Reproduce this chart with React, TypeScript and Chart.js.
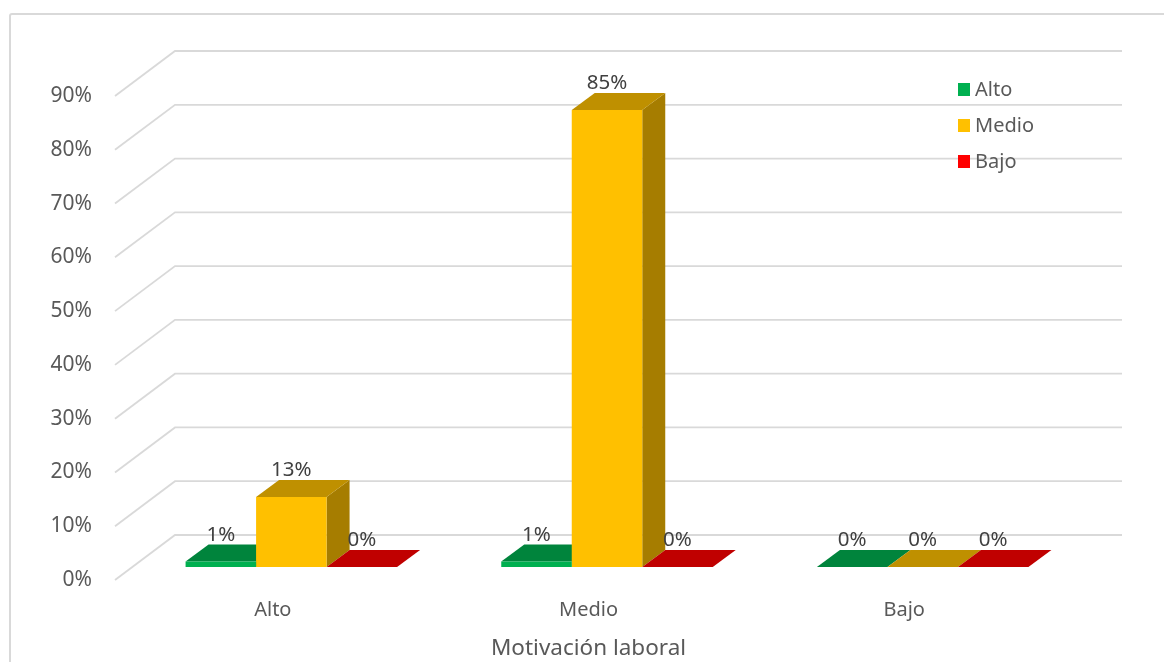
import React, { useEffect, useRef } from "react";
import { Chart, registerables } from "chart.js";

Chart.register(...registerables);

const categories = ["Alto", "Medio", "Bajo"];
const seriesNames = ["Alto", "Medio", "Bajo"];
const altoValues = [1, 1, 0];
const medioValues = [13, 85, 0];
const bajoValues = [0, 0, 0];
const axisTitle = "Motivación laboral";

const frontColors = ["#00B050", "#FFC000", "#FF0000"];
const topColors = ["#00843C", "#BF9000", "#C00000"];
const sideColors = ["#007335", "#A67D00", "#A60000"];

const FONT = '"Noto Sans", sans-serif';
const TEXT = "#595959";
const GRID = "#D9D9D9";

// Oblique projection used for the wall, the floor and the bar faces.
const WALL = { dx: 60, dy: -45 };
const BAR_SHIFT = { dx: 18.5, dy: -13 };
const BAR_DEPTH = { dx: 23, dy: -17 };

function poly(ctx: CanvasRenderingContext2D, pts: number[][], fill: string) {
  ctx.fillStyle = fill;
  ctx.beginPath();
  pts.forEach(([x, y], i) => (i ? ctx.lineTo(x, y) : ctx.moveTo(x, y)));
  ctx.closePath();
  ctx.fill();
}

const cardPlugin = {
  id: "card",
  beforeDraw(chart: any) {
    const { ctx, width, height } = chart;
    ctx.save();
    ctx.fillStyle = "#FFFFFF";
    ctx.fillRect(0, 0, width, height);
    ctx.strokeStyle = GRID;
    ctx.lineWidth = 2;
    ctx.beginPath();
    ctx.moveTo(10, height);
    ctx.lineTo(10, 16);
    ctx.quadraticCurveTo(10, 14, 12, 14);
    ctx.lineTo(width, 14);
    ctx.stroke();
    ctx.restore();
  },
};

const wallPlugin = {
  id: "wall",
  beforeDatasetsDraw(chart: any) {
    const { ctx, scales } = chart;
    const { x: xs, y: ys } = scales;
    ctx.save();
    ctx.strokeStyle = GRID;
    ctx.lineWidth = 1.8;
    ys.ticks.forEach((t: any) => {
      const py = ys.getPixelForValue(t.value);
      ctx.beginPath();
      ctx.moveTo(xs.left, py);
      ctx.lineTo(xs.left + WALL.dx, py + WALL.dy);
      ctx.lineTo(xs.right + WALL.dx, py + WALL.dy);
      ctx.stroke();
    });
    ctx.restore();
  },
};

const barsPlugin = {
  id: "bars3d",
  beforeDatasetsDraw(chart: any) {
    const { ctx } = chart;
    ctx.save();
    ctx.translate(BAR_SHIFT.dx, BAR_SHIFT.dy);
    chart.data.datasets.forEach((_: any, di: number) => {
      chart.getDatasetMeta(di).data.forEach((el: any) => {
        const l = el.x - el.width / 2;
        const r = el.x + el.width / 2;
        const t = el.y;
        const b = el.base;
        const { dx, dy } = BAR_DEPTH;
        if (b - t > 0.01) {
          poly(ctx, [[r, t], [r + dx, t + dy], [r + dx, b + dy], [r, b]], sideColors[di]);
        }
        poly(ctx, [[l, t], [r, t], [r + dx, t + dy], [l + dx, t + dy]], topColors[di]);
      });
    });
  },
  afterDatasetsDraw(chart: any) {
    const { ctx } = chart;
    ctx.fillStyle = "#404040";
    ctx.font = `20.5px ${FONT}`;
    ctx.textAlign = "center";
    ctx.textBaseline = "middle";
    chart.data.datasets.forEach((ds: any, di: number) => {
      chart.getDatasetMeta(di).data.forEach((el: any, i: number) => {
        ctx.fillText(`${ds.data[i]}%`, el.x, el.y - 26.5);
      });
    });
    ctx.restore();
  },
};

const legendPlugin = {
  id: "cornerLegend",
  afterDraw(chart: any) {
    const { ctx } = chart;
    ctx.save();
    ctx.font = `20px ${FONT}`;
    ctx.textBaseline = "middle";
    chart.data.datasets.forEach((ds: any, i: number) => {
      const y = 89 + i * 36;
      ctx.fillStyle = ds.backgroundColor;
      ctx.fillRect(958, y - 6, 12, 13);
      ctx.fillStyle = TEXT;
      ctx.fillText(ds.label, 975, y + 1);
    });
    ctx.restore();
  },
};

export default function App() {
  const ref = useRef<HTMLCanvasElement>(null);

  useEffect(() => {
    const seriesValues = [altoValues, medioValues, bajoValues];
    const chart = new Chart(ref.current as HTMLCanvasElement, {
      type: "bar",
      data: {
        labels: categories,
        datasets: seriesNames.map((label, i) => ({
          label,
          data: seriesValues[i],
          backgroundColor: frontColors[i],
          borderWidth: 0,
          categoryPercentage: 0.67,
          barPercentage: 1,
        })),
      },
      options: {
        responsive: false,
        animation: false,
        layout: { padding: { left: 0, top: 96, right: 102, bottom: 0 } },
        plugins: {
          legend: { display: false },
          tooltip: { enabled: false },
        },
        scales: {
          x: {
            grid: { display: false },
            border: { display: false },
            ticks: { color: TEXT, font: { family: FONT, size: 20 }, padding: 10, maxRotation: 0 },
            title: {
              display: true,
              text: axisTitle,
              color: TEXT,
              font: { family: FONT, size: 22.5 },
              padding: { top: 0, bottom: 0 },
            },
            afterFit(scale: any) {
              scale.height = 82;
            },
          },
          y: {
            min: 0,
            max: 90,
            grid: { display: false, drawTicks: false },
            border: { display: false },
            ticks: {
              stepSize: 10,
              color: TEXT,
              font: { family: FONT, size: 21 },
              padding: 23,
              callback: (v: any) => `${v}%`,
            },
            afterFit(scale: any) {
              scale.width = 115;
            },
          },
        },
      },
      plugins: [cardPlugin, wallPlugin, barsPlugin, legendPlugin],
    } as any);
    return () => chart.destroy();
  }, []);

  return (
    <canvas
      ref={ref}
      width={1164}
      height={662}
      style={{ position: "absolute", left: 0, top: 0, display: "block" }}
    />
  );
}
